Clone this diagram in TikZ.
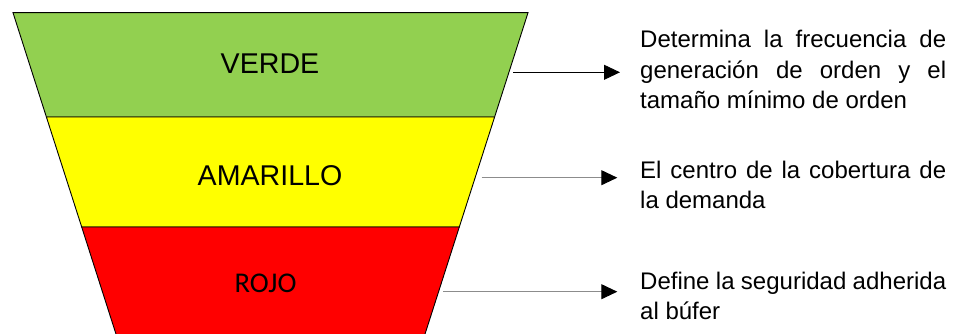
\documentclass[tikz,border=0pt]{standalone}
\usepackage{fontspec}
\setmainfont{Liberation Sans}
\newfontfamily\calibrilike{Carlito}
\usetikzlibrary{arrows.meta}
\definecolor{bandgreen}{HTML}{92D050}
\definecolor{bandyellow}{HTML}{FFFF00}
\definecolor{bandred}{HTML}{FF0000}
\definecolor{pointergray}{RGB}{140,140,140}
\begin{document}
\begin{tikzpicture}[x=1pt,y=-1pt,
  band/.style={draw=black, line width=0.9pt, line join=miter},
  bandlabel/.style={font=\fontsize{28.6}{34}\selectfont, inner sep=0pt, anchor=base},
  note/.style={font=\fontsize{24}{30.5}\selectfont, text width=306pt, align=justify, inner sep=0pt, anchor=base west},
  pointer/.style={line width=0.9pt, -{Triangle[length=16pt,width=15pt,color=black]}}]
  \useasboundingbox (0,0) rectangle (953,334);
  \clip (0,0) rectangle (953,334);

  % funnel bands, top to bottom
  \filldraw[band, fill=bandgreen]  (13,12.7) -- (528,12.7) -- (494.6,117) -- (46.4,117) -- cycle;
  \filldraw[band, fill=bandyellow] (46.4,117) -- (494.6,117) -- (459.3,227) -- (81.7,227) -- cycle;
  \filldraw[band, fill=bandred]    (81.7,227) -- (459.3,227) -- (423.1,340) -- (117.9,340) -- cycle;

  % band names
  \node[bandlabel] (verde) at (270,74) {VERDE};
  \node[bandlabel] (amarillo) at (270,185) {AMARILLO};
  \node[bandlabel, font=\calibrilike\fontsize{28.6}{34}\selectfont] (rojo) at (265.5,292) {ROJO};

  % descriptions
  \node[note] (n1) at (640,47.7) {Determina la frecuencia de\linebreak generación de orden y el\linebreak tamaño mínimo de orden};
  \node[note] (n2) at (640,178.3) {El centro de la cobertura de\linebreak la demanda};
  \node[note] (n3) at (640,289) {Define la seguridad adherida\linebreak al búfer};

  % pointers from the bands to the descriptions
  \coordinate (s1) at (513.3,72.3);
  \coordinate (e1) at (620,72.3);
  \coordinate (s2) at (481.7,177.7);
  \coordinate (e2) at (617.3,177.7);
  \coordinate (s3) at (443.3,291.7);
  \coordinate (e3) at (617.3,291.7);
  \draw[pointer, draw=black] (s1) -- (e1);
  \draw[pointer, draw=pointergray] (s2) -- (e2);
  \draw[pointer, draw=pointergray] (s3) -- (e3);
\end{tikzpicture}
\end{document}
